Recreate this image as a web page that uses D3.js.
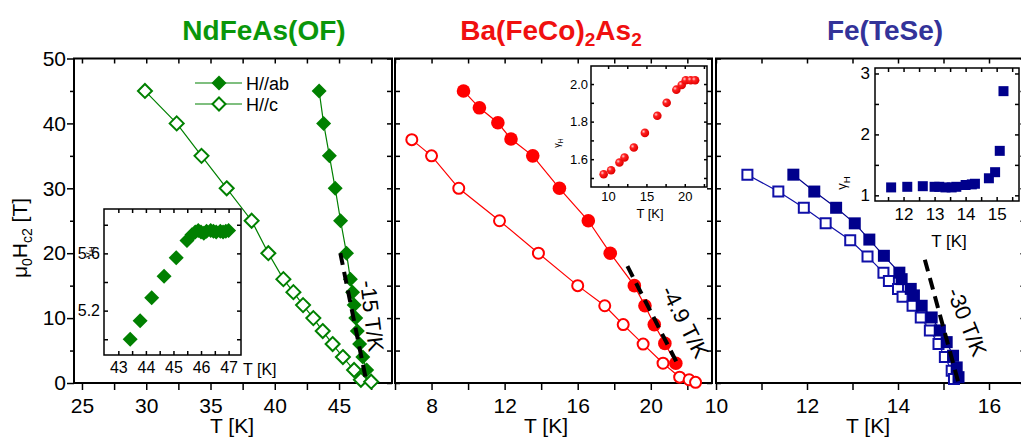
<!DOCTYPE html>
<html><head><meta charset="utf-8">
<script src="https://cdn.jsdelivr.net/npm/d3@7"></script>
<style>body{margin:0;background:#fff} svg text{font-family:"Liberation Sans",Arial,sans-serif}</style>
</head><body><script>
// ---------- DATA ----------
const titles = ["NdFeAs(OF)", "Ba(FeCo)2As2", "Fe(TeSe)"];
const yTicksMain = [0,5,10,15,20,25,30,35,40,45,50];
const yLabelsMain = [0,10,20,30,40,50];
// NdFeAs(OF)  [T (K), mu0Hc2 (T)]
const ndAb = [[43.45,45],[43.8,40],[44.25,35],[44.7,30],[45.12,25],[45.58,20],[45.88,16],[46.05,14],[46.18,12],[46.3,10],[46.42,8],[46.6,6],[46.85,4],[47.15,2]];
const ndC  = [[29.9,45],[32.37,40],[34.3,35],[36.26,30],[38.2,25],[39.5,20],[40.67,16],[41.45,14],[42.2,12],[43.0,10],[43.73,8],[44.5,6],[45.3,4],[46.17,2],[46.7,0.5],[47.5,0.2]];
const ndSlope = [[45.1,20],[47.15,0]];
const ndXTicks = [25,27.5,30,32.5,35,37.5,40,42.5,45,47.5];
const ndXLabels = [25,30,35,40,45];
// Ba(FeCo)2As2
const baAb = [[9.75,45],[10.62,42.4],[11.63,40.1],[12.35,37.6],[13.54,35],[15.0,30],[16.58,25],[17.78,20],[19.1,15],[19.68,11.9],[20.19,9.0],[20.77,6.1],[21.37,3.05]];
const baC  = [[6.92,37.5],[8.0,35],[9.49,30],[11.72,25],[13.85,20],[16.0,15],[17.48,11.9],[18.49,9.0],[19.58,6.0],[20.67,3.05],[21.58,0.9],[22.1,0.5],[22.45,0.1]];
const baSlope = [[18.72,18],[21.45,3]];
const baXTicks = [6,8,10,12,14,16,18,20,22];
const baXLabels = [8,12,16,20];
// Fe(TeSe)
const feAb = [[11.7,32.1],[12.16,29.5],[12.64,27.0],[13.05,24.6],[13.37,22.1],[13.69,19.6],[14.03,17.0],[14.08,16.0],[14.28,14.5],[14.35,13.5],[14.52,11.9],[14.74,10.1],[14.92,8.1],[15.07,6.3],[15.21,4.2],[15.29,2.4],[15.33,0.9]];
const feC  = [[10.69,32.1],[11.37,29.5],[11.93,27.0],[12.41,24.6],[12.95,22.0],[13.33,19.5],[13.68,17.0],[13.8,15.7],[14.0,14.5],[14.1,13.3],[14.32,11.9],[14.5,10.1],[14.7,8.1],[14.89,6.0],[15.03,4.0],[15.18,1.9],[15.23,0.6]];
const feSlope = [[14.59,19],[15.35,-0.5]];
const feXTicks = [10,11,12,13,14,15,16];
const feXLabels = [10,12,14,16];
// insets: gamma_H vs T
const ins1 = [[43.43,5.0],[43.79,5.13],[44.21,5.29],[44.66,5.44],[45.1,5.57],[45.49,5.69],[45.67,5.73],[45.79,5.75],[45.9,5.76],[46.0,5.75],[46.1,5.74],[46.2,5.755],[46.35,5.76],[46.45,5.755],[46.55,5.75],[46.7,5.755],[46.8,5.75],[46.9,5.755],[47.0,5.76]];
const ins1XTicks = [43,43.5,44,44.5,45,45.5,46,46.5,47], ins1XLabels = [43,44,45,46,47];
const ins1YTicks = [5.0,5.2,5.4,5.6,5.8], ins1YLabels = [5.2,5.6];
const ins2 = [[9.42,1.52],[10.39,1.541],[11.48,1.582],[12.14,1.609],[13.36,1.662],[14.8,1.74],[16.42,1.831],[17.64,1.90],[18.9,1.97],[19.6,1.995],[20.13,2.02],[20.78,2.02],[21.35,2.02]];
const ins2XTicks = [10,12.5,15,17.5,20,22.5], ins2XLabels = [10,15,20];
const ins2YTicks = [1.5,1.6,1.7,1.8,1.9,2.0], ins2YLabels = [1.6,1.8,2.0];
const ins3 = [[11.6,1.13],[12.12,1.14],[12.62,1.15],[13.0,1.14],[13.15,1.14],[13.35,1.13],[13.55,1.13],[13.7,1.14],[14.0,1.17],[14.2,1.18],[14.3,1.19],[14.75,1.28],[14.95,1.38],[15.1,1.73],[15.22,2.71]];
const ins3XTicks = [11.5,12,12.5,13,13.5,14,14.5,15,15.5], ins3XLabels = [12,13,14,15];
const ins3YTicks = [1,1.5,2,2.5,3], ins3YLabels = [1,2,3];

// ---------- STYLE ----------
const GREEN = "#008000", RED = "#ff0000", NAVY = "#00008c", BLUE = "#1010a8";
const W = 1021, H = 441;
const svg = d3.select("body").append("svg").attr("width", W).attr("height", H);
const defs = svg.append("defs");
const rg = defs.append("radialGradient").attr("id","ball").attr("cx","35%").attr("cy","35%").attr("r","65%");
rg.append("stop").attr("offset","0%").attr("stop-color","#ffd0d0");
rg.append("stop").attr("offset","35%").attr("stop-color","#ff2020");
rg.append("stop").attr("offset","100%").attr("stop-color","#e00000");

const yMain = d3.scaleLinear().domain([0,50]).range([383,58.5]);
const font = '"Liberation Sans", Arial, sans-serif';

function styleAxis(g, size){
  g.attr("font-family", font).attr("font-size", size);
  g.select(".domain").remove();
  g.selectAll(".tick line").attr("stroke","#000").attr("stroke-width",1.5);
  g.selectAll(".tick text").attr("fill","#000");
}
const isIn = (labels, d) => labels.some(l => Math.abs(l-d)<1e-9);
function fmtFn(labels, f){ return d => isIn(labels,d) ? (f ? f(d) : String(d)) : ""; }

function frameAxes(x, y, o){
  const [x0,x1] = x.range(), [yb,yt] = y.range();
  const g = svg.append("g");
  g.append("g").attr("transform",`translate(0,${yb})`)
    .call(d3.axisBottom(x).tickValues(o.xt).tickSize(o.bSize).tickPadding(o.bPad).tickFormat(fmtFn(o.xl,o.xf)))
    .call(a=>styleAxis(a,o.fs));
  g.append("g").attr("transform",`translate(0,${yt})`)
    .call(d3.axisTop(x).tickValues(o.xt).tickSize(-o.inSize).tickFormat(""))
    .call(a=>styleAxis(a,o.fs));
  const left = d3.axisLeft(y).tickValues(o.yt).tickSize(o.lSize).tickPadding(o.lPad).tickFormat(o.yl ? fmtFn(o.yl,o.yf) : "");
  const lg = g.append("g").attr("transform",`translate(${x0},0)`).call(left).call(a=>styleAxis(a,o.fs));
  if (o.minorLeft) lg.selectAll(".tick").filter(d => !isIn(o.yl,d)).select("line").attr("x2",-o.minorLeft);
  g.append("g").attr("transform",`translate(${x1},0)`)
    .call(d3.axisRight(y).tickValues(o.yt).tickSize(-o.inSize).tickFormat(""))
    .call(a=>styleAxis(a,o.fs));
  g.append("rect").attr("x",x0).attr("y",yt).attr("width",x1-x0).attr("height",yb-yt)
    .attr("fill","none").attr("stroke","#000").attr("stroke-width",o.frameW);
  return g;
}

const diamond = r => `M0,${-r}L${r},0L0,${r}L${-r},0Z`;
const square = r => `M${-r},${-r}H${r}V${r}H${-r}Z`;

function series(x, y, data, o){
  const g = svg.append("g");
  if (o.line) g.append("path").datum(data)
    .attr("d", d3.line().x(d=>x(d[0])).y(d=>y(d[1])))
    .attr("fill","none").attr("stroke",o.color).attr("stroke-width",1.2);
  g.selectAll(null).data(data).enter().append(o.shape==="circle"?"circle":"path")
    .each(function(d){
      const s = d3.select(this);
      if (o.shape==="circle") s.attr("cx",x(d[0])).attr("cy",y(d[1])).attr("r",o.r);
      else s.attr("transform",`translate(${x(d[0])},${y(d[1])})`).attr("d", o.shape==="diamond"?diamond(o.r):square(o.r));
    })
    .attr("fill", o.open ? "#fff" : (o.fill||o.color))
    .attr("stroke", o.open ? o.color : (o.stroke||"none"))
    .attr("stroke-width", o.open ? 2 : 0);
}
function slope(x, y, data){
  svg.append("path").datum(data).attr("d", d3.line().x(d=>x(d[0])).y(d=>y(d[1])))
    .attr("fill","none").attr("stroke","#000").attr("stroke-width",4).attr("stroke-dasharray","12,7");
}
function rotText(xp, yp, ang, txt, size){
  svg.append("text").attr("transform",`translate(${xp},${yp}) rotate(${ang})`)
    .attr("text-anchor","middle").attr("dy","0.35em").attr("font-size",size).text(txt);
}
function xLabel(cx, yb, size){
  svg.append("text").attr("x",cx).attr("y",yb).attr("text-anchor","middle").attr("font-size",size).text("T [K]");
}
function gammaLabel(xp, yp, size){
  const t = svg.append("text").attr("transform",`translate(${xp},${yp}) rotate(-90)`)
    .attr("text-anchor","middle").attr("font-size",size);
  t.append("tspan").text("γ");
  t.append("tspan").attr("dy",size*0.3).attr("font-size",size*0.75).text("H");
}

// ---------- PANEL 1 ----------
const x1 = d3.scaleLinear().domain([24.38,49.12]).range([74,392]);
frameAxes(x1, yMain, {xt:ndXTicks, xl:ndXLabels, yt:yTicksMain, yl:yLabelsMain, fs:21,
  bSize:7, bPad:8, lSize:7, lPad:1, inSize:5, frameW:2, minorLeft:4});
series(x1, yMain, ndC, {color:GREEN, shape:"diamond", r:7, open:true, line:true});
series(x1, yMain, ndAb, {color:GREEN, shape:"diamond", r:7.5, line:true});
slope(x1, yMain, ndSlope);
rotText(372, 316, 83, "-15 T/K", 22);
// legend
[[83,false,"H//ab"],[104,true,"H//c"]].forEach(([ly,open,lab])=>{
  svg.append("line").attr("x1",195).attr("x2",242).attr("y1",ly).attr("y2",ly).attr("stroke",GREEN).attr("stroke-width",1.2);
  svg.append("path").attr("transform",`translate(219,${ly})`).attr("d",diamond(open?6.5:7.5))
    .attr("fill",open?"#fff":GREEN).attr("stroke",open?GREEN:"none").attr("stroke-width",2);
  svg.append("text").attr("x",246).attr("y",ly+6.5).attr("font-size",18).text(lab);
});
// inset 1
const ix1 = d3.scaleLinear().domain([42.48,47.45]).range([104,241]);
const iy1 = d3.scaleLinear().domain([4.89,5.91]).range([355,209]);
svg.append("rect").attr("x",104).attr("y",209).attr("width",137).attr("height",146).attr("fill","#fff");
frameAxes(ix1, iy1, {xt:ins1XTicks, xl:ins1XLabels, yt:ins1YTicks, yl:ins1YLabels, yf:d3.format(".1f"), fs:16,
  bSize:-4, bPad:7, lSize:-4, lPad:4, inSize:4, frameW:1.5});
series(ix1, iy1, ins1, {color:GREEN, shape:"diamond", r:7.5});
svg.append("text").attr("x",243).attr("y",375).attr("font-size",16).text("T [K]");
gammaLabel(92, 252, 11);

// ---------- PANEL 2 ----------
const x2 = d3.scaleLinear().domain([6,23.35]).range([395,712]);
frameAxes(x2, yMain, {xt:baXTicks, xl:baXLabels, yt:yTicksMain, yl:null, fs:21,
  bSize:7, bPad:8, lSize:-5, lPad:1, inSize:5, frameW:2});
series(x2, yMain, baC, {color:RED, shape:"circle", r:5.5, open:true, line:true});
series(x2, yMain, baAb, {color:RED, shape:"circle", r:6.8, line:true});
slope(x2, yMain, baSlope);
rotText(685, 322, 63, "-4.9 T/K", 22);
// inset 2
const ix2 = d3.scaleLinear().domain([7.77,22.9]).range([591,707]);
const iy2 = d3.scaleLinear().domain([1.452,2.096]).range([187,66]);
svg.append("rect").attr("x",591).attr("y",66).attr("width",116).attr("height",121).attr("fill","#fff");
frameAxes(ix2, iy2, {xt:ins2XTicks, xl:ins2XLabels, yt:ins2YTicks, yl:ins2YLabels, yf:d3.format(".1f"), fs:13,
  bSize:-3, bPad:5, lSize:-3, lPad:3, inSize:3, frameW:1.5});
series(ix2, iy2, ins2, {color:RED, shape:"circle", r:4.3, fill:"url(#ball)"});
xLabel(650, 218, 13);
gammaLabel(560, 143, 9);

// ---------- PANEL 3 ----------
const x3 = d3.scaleLinear().domain([10,16.8]).range([716,1025.4]);
frameAxes(x3, yMain, {xt:feXTicks, xl:feXLabels, yt:yTicksMain, yl:null, fs:21,
  bSize:7, bPad:8, lSize:-5, lPad:1, inSize:5, frameW:2});
series(x3, yMain, feC, {color:BLUE, shape:"square", r:5, open:true, line:true});
series(x3, yMain, feAb, {color:NAVY, shape:"square", r:6, line:true});
slope(x3, yMain, feSlope);
rotText(967, 322, 68, "-30 T/K", 22);
// inset 3
const ix3 = d3.scaleLinear().domain([11.08,15.72]).range([875,1019]);
const iy3 = d3.scaleLinear().domain([0.907,3.09]).range([201,68]);
svg.append("rect").attr("x",875).attr("y",68).attr("width",144).attr("height",133).attr("fill","#fff");
frameAxes(ix3, iy3, {xt:ins3XTicks, xl:ins3XLabels, yt:ins3YTicks, yl:ins3YLabels, fs:17,
  bSize:-4, bPad:7, lSize:-4, lPad:5, inSize:4, frameW:1.5});
series(ix3, iy3, ins3, {color:NAVY, shape:"square", r:5});
xLabel(949, 247, 17);
gammaLabel(846, 183, 13);

// ---------- AXIS LABELS & TITLES ----------
[232,546,868].forEach(cx => xLabel(cx, 433, 21));
const yl = svg.append("text").attr("transform","translate(27,238) rotate(-90)")
  .attr("text-anchor","middle").attr("font-size",21);
yl.append("tspan").text("μ");
yl.append("tspan").attr("dy",5).attr("font-size",14).text("0");
yl.append("tspan").attr("dy",-5).text("H");
yl.append("tspan").attr("dy",5).attr("font-size",14).text("c2");
yl.append("tspan").attr("dy",-5).text(" [T]");

svg.append("text").attr("x",264).attr("y",40).attr("text-anchor","middle").attr("font-size",28)
  .attr("font-weight","bold").attr("fill","#0a960a").text(titles[0]);
const t2 = svg.append("text").attr("x",551).attr("y",40).attr("text-anchor","middle").attr("font-size",28)
  .attr("font-weight","bold").attr("fill","#f01010");
t2.append("tspan").text("Ba(FeCo)");
t2.append("tspan").attr("dy",6).attr("font-size",19).text("2");
t2.append("tspan").attr("dy",-6).text("As");
t2.append("tspan").attr("dy",6).attr("font-size",19).text("2");
svg.append("text").attr("x",885).attr("y",40).attr("text-anchor","middle").attr("font-size",28)
  .attr("font-weight","bold").attr("fill","#333399").text(titles[2]);
</script></body></html>
